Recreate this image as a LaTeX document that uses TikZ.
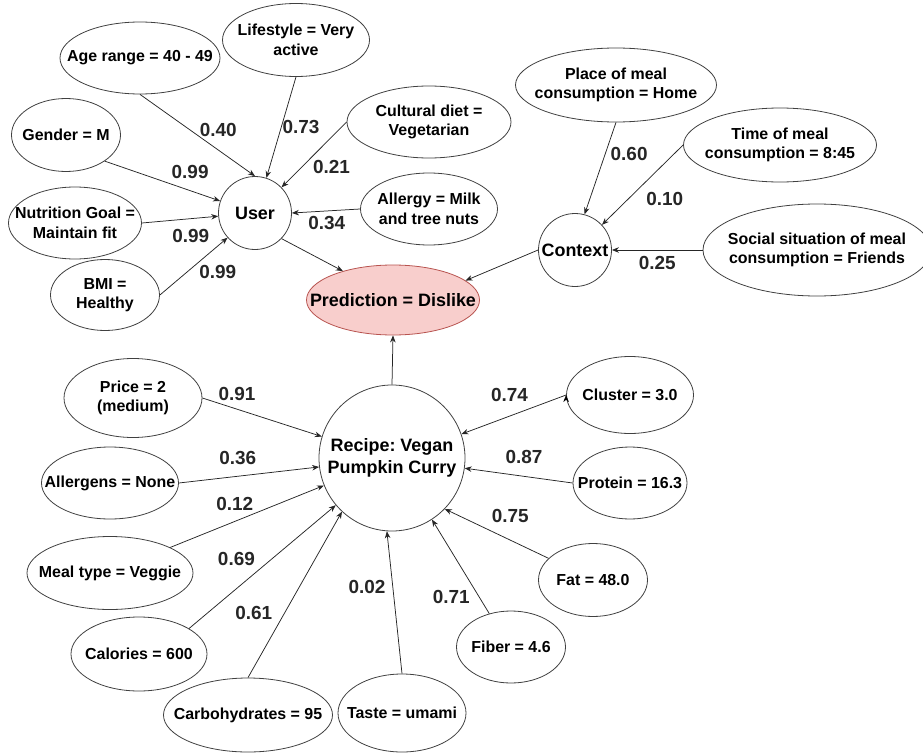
\documentclass[tikz,border=0pt]{standalone}
\usepackage{fontspec}
\setmainfont{Liberation Sans}
\usepackage{tikz}
\usetikzlibrary{arrows.meta, shapes.geometric}
\definecolor{predfill}{HTML}{F8CECC}
\definecolor{predline}{HTML}{B85450}
\frenchspacing
\tikzset{
  ->, % every edge is directed
  >={Stealth[length=7bp, width=5.5bp]}, % small filled arrow heads
  every edge/.style={draw, black!85, line width=0.75bp}, % thin dark connectors
  leaf/.style={ellipse, draw=black!75, line width=0.8bp, inner sep=0pt}, % the bare ellipse
  leaf text/.style={align=center, inner sep=0pt, font=\bfseries\fontsize{16}{19.5}\selectfont}, % text set inside it
  factor/.style n args={3}{leaf, minimum width=#1, minimum height=#2, label={[leaf text]center:{#3}}}, % leaf ellipse of given size
  hub/.style={circle, draw=black!75, line width=0.8bp, minimum size=#1, inner sep=0pt, align=center, font=\bfseries\fontsize{18}{21.5}\selectfont}, % the round group nodes
  score/.style={font=\bfseries\fontsize{19}{22}\selectfont, inner sep=1bp}, % weights on the edges
}

\begin{document}
\begin{tikzpicture}[x=1bp, y=-1bp]
    \useasboundingbox (0,0) rectangle (923,754);

    % user side
    \node[hub=73bp] (USER) at (255,213) {User};
    \node[factor={160bp}{72bp}{Age range = 40 - 49}] (AGE_RANGE) at (140,58) {};
    \node[factor={147bp}{73bp}{Lifestyle = Very\\active}] (LIFESTYLE) at (296,40) {};
    \node[factor={109bp}{73bp}{Gender = M}] (GENDER) at (66,135) {};
    \node[factor={164bp}{72bp}{Cultural diet =\\Vegetarian}] (CULTURAL_DIET) at (429,122) {};
    \node[factor={133bp}{72bp}{Nutrition Goal =\\Maintain fit}] (NUTRITION_GOAL) at (75,223) {};
    \node[factor={137bp}{72bp}{Allergy = Milk\\and tree nuts}] (ALLERGY) at (429,209) {};
    \node[factor={109bp}{71bp}{BMI =\\Healthy}] (BMI) at (105,295) {};

    % prediction
    \node[leaf, minimum width=173bp, minimum height=70bp, fill=predfill, draw=predline,
          label={[leaf text, font=\bfseries\fontsize{18}{21.5}\selectfont]center:Prediction = Dislike}] (PREDICTION) at (393,300) {};

    % context side
    \node[hub=73bp] (CONTEXT) at (575,250) {Context};
    \node[factor={201bp}{74bp}{Place of meal\\consumption = Home}] (PLACE) at (616,85) {};
    \node[factor={193bp}{74bp}{Time of meal\\consumption = 8:45}] (TIME) at (780,145) {};
    \node[factor={228bp}{92bp}{Social situation of meal\\consumption = Friends}] (SOCIAL) at (817,250) {};

    % recipe side
    \node[hub=146bp] (RECIPE) at (392,458) {Recipe: Vegan\\Pumpkin Curry};
    \node[factor={138bp}{79bp}{Price = 2\\(medium)}] (PRICE) at (133,398) {};
    \node[factor={137bp}{72bp}{Allergens = None}] (ALLERGENS) at (110,483) {};
    \node[factor={166bp}{73bp}{Meal type = Veggie}] (MEAL_TYPE) at (110,573) {};
    \node[factor={136bp}{74bp}{Calories = 600}] (CALORIES) at (139,654) {};
    \node[factor={169bp}{74bp}{Carbohydrates = 95}] (CARBOHYDRATES) at (248,715) {};
    \node[factor={128bp}{78bp}{Taste = umami}] (TASTE) at (402,713) {};
    \node[factor={109bp}{72bp}{Fiber = 4.6}] (FIBER) at (511,647) {};
    \node[factor={109bp}{73bp}{Fat = 48.0}] (FAT) at (593,580) {};
    \node[factor={114bp}{72bp}{Protein = 16.3}] (PROTEIN) at (630,483) {};
    \node[factor={127bp}{77bp}{Cluster = 3.0}] (CLUSTER) at (630,395) {};

    \draw (AGE_RANGE.south) edge node[score, pos=.68, above=12bp]{0.40} (USER.90)
          (LIFESTYLE.south) edge node[score, pos=.5, right]{0.73} (USER.72)
          (GENDER.-34) edge node[score, pos=.74, above=11bp]{0.99} (USER.161)
          (CULTURAL_DIET.west) edge node[score, pos=.69, right=10bp]{0.21} (USER.44)
          (ALLERGY.west) edge node[score, pos=.49, below=3.5bp]{0.34} (USER.0)
          (NUTRITION_GOAL.east) edge node[score, pos=.64, below=9bp]{0.99} (USER.185)
          (BMI.east) edge node[score, pos=.4, right=11bp]{0.99} (USER.222)

          (USER.-44) edge (PREDICTION.150)
          (CONTEXT.west) edge (PREDICTION.15)
          (RECIPE.north) edge (PREDICTION.south)

          (PLACE.south) edge node[score, pos=.34, right=4bp]{0.60} (CONTEXT.75)
          (TIME.west) edge node[score, pos=.68, right=17bp]{0.10} (CONTEXT.43)
          (SOCIAL.west) edge node[score, pos=.5, below=5bp]{0.25} (CONTEXT.east)

          (PRICE.east) edge node[score, pos=.29, above=7.5bp]{0.91} (RECIPE.163)
          (ALLERGENS.east) edge node[score, pos=.42, above=10bp]{0.36} (RECIPE.187)
          (MEAL_TYPE.23) edge node[score, pos=.42, above=9bp]{0.12} (RECIPE.202)
          (CALORIES.27) edge node[score, pos=.56, left=15bp]{0.69} (RECIPE.220)
          (CARBOHYDRATES.north) edge node[score, pos=.39, left=11bp]{0.61} (RECIPE.227)
          (TASTE.north) edge node[score, pos=.61, left=6bp]{0.02} (RECIPE.266)
          (FIBER.123) edge node[score, pos=.18, left=8bp]{0.71} (RECIPE.303)
          (FAT.154) edge node[score, pos=.37, above=16bp]{0.75} (RECIPE.316)
          (PROTEIN.west) edge node[score, pos=.45, above=11bp]{0.87} (RECIPE.-8)
          (CLUSTER.west) edge node[score, pos=.54, above=13bp]{0.74} (RECIPE.19)
          ;
\end{tikzpicture}
\end{document}
